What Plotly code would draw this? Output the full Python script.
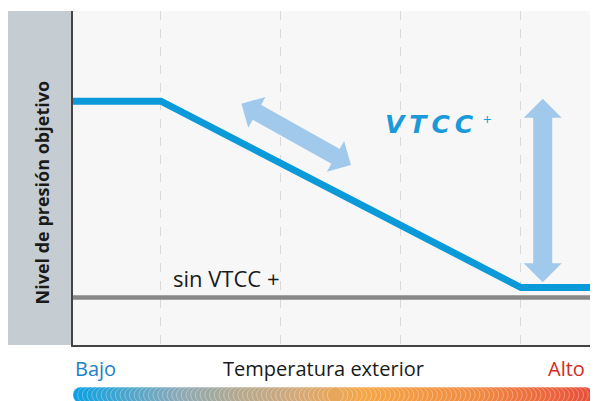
"""
Target pressure level versus outdoor temperature, with and without VTCC+.
"""

import numpy as np
import plotly.graph_objects as go

# Outdoor temperature positions (dashed guides sit at 1..4)
temp_guides = [1, 2, 3, 4]
temp_range = [0.267, 4.6]

# Target pressure level (0-100 scale)
vtcc_temp = [0.267, 1, 4, 4.6]
vtcc_level = [73, 73, 17.2, 17.2]
sin_temp = [0.267, 4.6]
sin_level = [14.2, 14.2]

# Colour scale for the Bajo -> Alto strip
scale_colors = [
    [0.0, "#0ba1e2"],
    [0.2, "#8aaab8"],
    [0.32, "#b3a98f"],
    [0.44, "#d4a878"],
    [0.55, "#f5a645"],
    [0.78, "#f08a42"],
    [1.0, "#e8503a"],
]
strip_pos = np.linspace(0.333, 4.533, 108)
strip_val = (strip_pos - strip_pos[0]) / (strip_pos[-1] - strip_pos[0])
half = len(strip_pos) // 2
strip_order = list(range(half)) + list(range(len(strip_pos) - 1, half - 1, -1))

FONT = "Open Sans"
ARROW_BLUE = "#a0c9eb"


def double_arrow(tail, tip, shaft_tail, shaft_tip, width, head_scale):
    """Fat double headed arrow: a thick shaft plus a thin line carrying the heads."""
    shaft = dict(text="", x=shaft_tip[0], y=shaft_tip[1], ax=shaft_tail[0], ay=shaft_tail[1],
                 axref="x", ayref="y", showarrow=True, arrowhead=0, arrowwidth=width,
                 arrowcolor=ARROW_BLUE, font=dict(size=1))
    heads = dict(text="", x=tip[0], y=tip[1], ax=tail[0], ay=tail[1],
                 axref="x", ayref="y", showarrow=True, arrowside="end+start",
                 arrowhead=1, startarrowhead=1, arrowwidth=1,
                 arrowsize=head_scale, startarrowsize=head_scale,
                 arrowcolor=ARROW_BLUE, font=dict(size=1))
    return [shaft, heads]


fig = go.Figure()

fig.add_trace(go.Scatter(
    x=sin_temp, y=sin_level, mode="lines",
    line=dict(color="#888888", width=4.5),
    hoverinfo="skip", showlegend=False
))
fig.add_trace(go.Scatter(
    x=vtcc_temp, y=vtcc_level, mode="lines",
    line=dict(color="#0b9ad9", width=7),
    hoverinfo="skip", showlegend=False
))

# Gradient strip under the x axis
fig.add_trace(go.Scatter(
    x=strip_pos[strip_order], y=[0.5] * len(strip_pos),
    xaxis="x2", yaxis="y2", mode="markers",
    marker=dict(
        size=16, color=strip_val[strip_order], colorscale=scale_colors,
        cmin=0, cmax=1, line=dict(color="rgba(255,255,255,0.45)", width=0.7)
    ),
    cliponaxis=False, hoverinfo="skip", showlegend=False
))

annotations = [
    # y axis title
    dict(text="<b>Nivel de presión objetivo</b>", xref="paper", yref="paper",
         x=-0.0606, y=0.536, xanchor="center", yanchor="middle", textangle=-90,
         showarrow=False, font=dict(family=FONT, size=18, color="#1a1a1a")),
    # bottom labels
    dict(text="Bajo", xref="paper", yref="paper", x=0, y=0.0846,
         xanchor="left", yanchor="middle", showarrow=False,
         font=dict(family=FONT, size=20, color="#2080c8")),
    dict(text="Temperatura exterior", xref="paper", yref="paper", x=0.4817, y=0.0846,
         xanchor="center", yanchor="middle", showarrow=False,
         font=dict(family=FONT, size=20, color="#1a1a1a")),
    dict(text="Alto", xref="paper", yref="paper", x=0.9885, y=0.0846,
         xanchor="right", yanchor="middle", showarrow=False,
         font=dict(family=FONT, size=20, color="#d42a20")),
    # line labels
    dict(text="sin VTCC +", x=1.08, y=20.2, xanchor="left", yanchor="middle",
         showarrow=False, font=dict(family=FONT, size=22, color="#1a1a1a")),
    dict(text="V\u2009T\u2009C\u2009C", x=2.85, y=65.9, xanchor="left", yanchor="middle",
         showarrow=False,
         font=dict(family="DejaVu Sans", size=25, color="#1a9ad8",
                   weight="bold", style="italic")),
    dict(text="+", x=3.717, y=67.6, xanchor="center", yanchor="middle",
         showarrow=False, font=dict(family=FONT, size=15, color="#1a9ad8")),
    # x axis arrow tip
    dict(text="", xref="paper", yref="paper", x=1.0096, y=0.1423, ax=-10, ay=0,
         showarrow=True, arrowhead=1, arrowwidth=1.5, arrowsize=1.33,
         arrowcolor="#444444", font=dict(size=1)),
]
# double arrows showing the VTCC+ adjustment range
annotations += double_arrow((1.658, 72.5), (2.583, 53.9), (1.767, 70.3), (2.474, 56.1), 17, 5.9)
annotations += double_arrow((4.181, 74.2), (4.181, 18.8), (4.181, 69.2), (4.181, 23.8), 19, 6.33)

fig.update_layout(
    width=590, height=393,
    margin=dict(l=65, r=5, t=3, b=0),
    paper_bgcolor="white",
    plot_bgcolor="#f8f7f8",
    showlegend=False,
    xaxis=dict(
        range=temp_range, domain=[0, 1], tickvals=temp_guides,
        showticklabels=False, ticks="", zeroline=False,
        showgrid=True, gridcolor="#d9d9d9", griddash="dash", gridwidth=1,
        showline=True, linecolor="#444444", linewidth=1.5, anchor="y"
    ),
    yaxis=dict(
        range=[0, 100], domain=[0.1436, 1], showticklabels=False, ticks="",
        showgrid=False, zeroline=False,
        showline=True, linecolor="#444444", linewidth=1.5, anchor="x"
    ),
    xaxis2=dict(range=temp_range, domain=[0, 1], anchor="y2", visible=False),
    yaxis2=dict(range=[0, 1], domain=[0, 0.0308], anchor="x2", visible=False),
    shapes=[dict(type="rect", xref="paper", yref="paper", x0=-0.125, x1=0,
                 y0=0.1436, y1=1, fillcolor="#c5cdd3", line=dict(width=0), layer="below")],
    annotations=annotations,
)

fig.write_html("out.html")
